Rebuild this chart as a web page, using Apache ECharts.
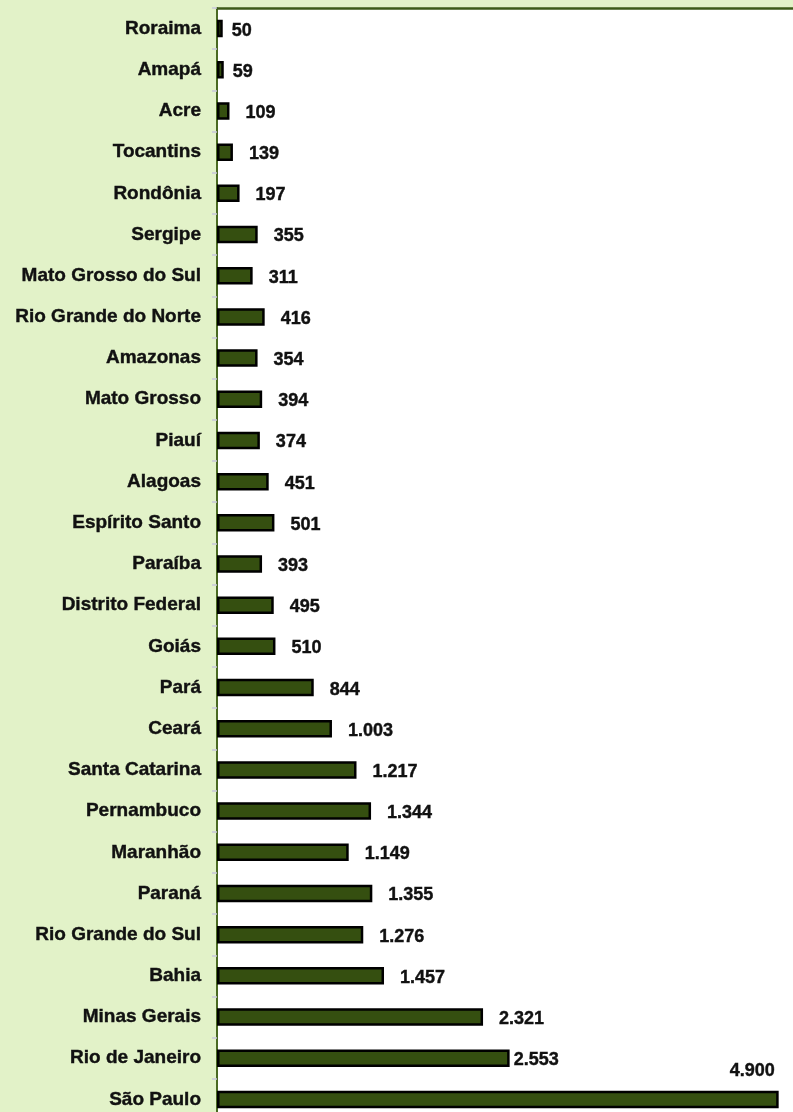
<!DOCTYPE html>
<html>
<head>
<meta charset="utf-8">
<script src="https://cdn.jsdelivr.net/npm/echarts@6/dist/echarts.min.js"></script>
<style>
  html, body { margin: 0; padding: 0; background: #e2f2c8; overflow: hidden; }
  #chart { width: 793px; height: 1122px; }
</style>
</head>
<body>
<div id="chart"></div>
<script>
// States, listed top to bottom
const states = [
  'Roraima', 'Amapá', 'Acre', 'Tocantins', 'Rondônia', 'Sergipe',
  'Mato Grosso do Sul', 'Rio Grande do Norte', 'Amazonas', 'Mato Grosso',
  'Piauí', 'Alagoas', 'Espírito Santo', 'Paraíba', 'Distrito Federal',
  'Goiás', 'Pará', 'Ceará', 'Santa Catarina', 'Pernambuco', 'Maranhão',
  'Paraná', 'Rio Grande do Sul', 'Bahia', 'Minas Gerais', 'Rio de Janeiro',
  'São Paulo'
];

const values = [
  50, 59, 109, 139, 197, 355,
  311, 416, 354, 394,
  374, 451, 501, 393, 495,
  510, 844, 1003, 1217, 1344, 1149,
  1355, 1276, 1457, 2321, 2553,
  4900
];

// Thousands separator as a dot (pt-BR)
const fmt = v => String(v).replace(/\B(?=(\d{3})+(?!\d))/g, '.');

const FONT = 'Arial, "Liberation Sans", sans-serif';
const INK = '#111';

// Per-bar label placement tweaks (short bars sit closer, long bars differ)
function labelFor(i) {
  const base = {
    show: true, position: 'right', distance: 16, offset: [0, 2],
    color: INK, fontWeight: 'bold', fontSize: 18, fontFamily: FONT,
    textBorderColor: INK, textBorderWidth: 0.4,
    formatter: p => fmt(p.value)
  };
  if (states[i] === 'Roraima' || states[i] === 'Amapá') base.distance = 9;
  if (states[i] === 'Rio de Janeiro') base.distance = 4;
  if (states[i] === 'São Paulo') {
    base.position = 'insideRight';
    base.distance = 4;
    base.offset = [0, -28];
  }
  return base;
}

const chart = echarts.init(document.getElementById('chart'), null, { renderer: 'canvas' });

chart.setOption({
  backgroundColor: '#e2f2c8',
  animation: false,
  grid: {
    left: 217, top: 8, width: 576, height: 1112,
    show: true, backgroundColor: '#ffffff', borderWidth: 0,
    containLabel: false
  },
  xAxis: {
    type: 'value', position: 'top', min: 0, max: 5025,
    axisLine: { show: true, lineStyle: { color: '#3c5a17', width: 2.5 } },
    axisTick: { show: false }, axisLabel: { show: false },
    splitLine: { show: false }
  },
  yAxis: {
    type: 'category', data: states, inverse: true,
    axisLine: { show: true, lineStyle: { color: '#4a6a22', width: 2 } },
    axisTick: { show: true, length: 5, lineStyle: { color: '#c8c8da', width: 1.5 } },
    axisLabel: {
      margin: 16, color: INK, fontWeight: 'bold', fontSize: 19, fontFamily: FONT,
      textBorderColor: INK, textBorderWidth: 0.4
    }
  },
  series: [{
    type: 'bar',
    barWidth: 17.5,
    data: values.map((v, i) => ({ value: v, label: labelFor(i) })),
    itemStyle: { color: '#354f10', borderColor: '#000', borderWidth: 2.5 }
  }]
});
</script>
</body>
</html>
